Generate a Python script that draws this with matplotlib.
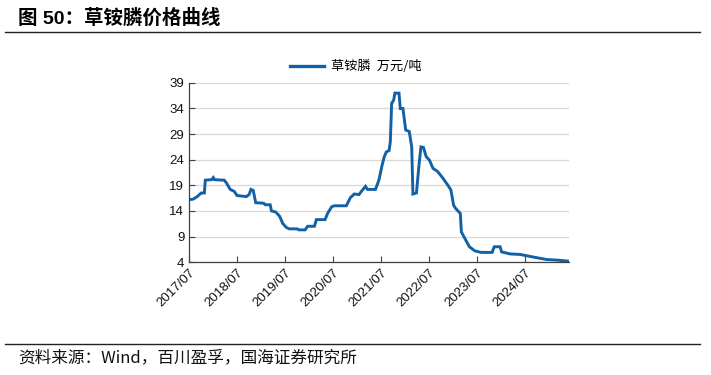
"""
Glufosinate price curve (万元/吨), weekly-ish step series.
"""

import pandas as pd
import matplotlib
matplotlib.use("Agg")
import matplotlib.pyplot as plt
import matplotlib.dates as mdates
from matplotlib.lines import Line2D

plt.rcParams["font.family"] = ["Liberation Sans", "Noto Sans CJK SC", "DejaVu Sans"]

# --- data ---
dates = [
    "2017-07-01", "2017-08-01", "2017-09-01", "2017-10-01", "2017-10-25", "2017-11-01",
    "2017-12-20", "2018-01-01", "2018-01-10", "2018-03-25", "2018-04-10", "2018-05-10",
    "2018-06-10", "2018-07-01", "2018-09-10", "2018-10-01", "2018-10-15", "2018-11-01",
    "2018-11-20", "2019-01-20", "2019-02-01", "2019-03-10", "2019-03-20", "2019-04-20",
    "2019-05-20", "2019-06-15", "2019-07-10", "2019-08-01", "2019-10-01", "2019-10-15",
    "2019-12-01", "2019-12-20", "2020-02-10", "2020-02-25", "2020-05-01", "2020-05-20",
    "2020-06-20", "2020-07-10", "2020-10-10", "2020-11-10", "2020-12-10", "2021-01-15",
    "2021-02-01", "2021-03-05", "2021-03-20", "2021-05-20", "2021-06-15", "2021-07-10",
    "2021-07-25", "2021-08-10", "2021-09-01", "2021-09-10", "2021-09-20", "2021-10-05",
    "2021-10-15", "2021-11-15", "2021-11-25", "2021-12-15", "2021-12-25", "2022-01-05",
    "2022-02-01", "2022-02-20", "2022-03-01", "2022-03-28", "2022-04-15", "2022-05-01",
    "2022-05-20", "2022-06-10", "2022-07-05", "2022-08-01", "2022-09-05", "2022-10-15",
    "2022-11-20", "2022-12-15", "2023-01-05", "2023-01-20", "2023-02-25", "2023-03-05",
    "2023-04-01", "2023-05-05", "2023-06-15", "2023-08-01", "2023-10-25", "2023-11-10",
    "2023-12-25", "2024-01-05", "2024-03-10", "2024-05-25", "2024-09-01", "2024-12-15",
    "2025-03-01", "2025-05-25",
]
prices = [
    16.2, 16.3, 16.8, 17.5, 17.5, 20.0,
    20.1, 20.5, 20.1, 20.0, 19.5, 18.2,
    17.8, 17.0, 16.8, 17.2, 18.2, 18.0,
    15.6, 15.5, 15.2, 15.2, 14.0, 13.8,
    13.0, 11.5, 10.8, 10.5, 10.5, 10.3,
    10.3, 11.0, 11.0, 12.3, 12.3, 13.5,
    14.8, 15.0, 15.0, 16.6, 17.3, 17.2,
    17.8, 18.8, 18.2, 18.2, 20.0, 23.0,
    24.5, 25.5, 25.8, 27.5, 35.0, 35.6,
    37.0, 37.0, 34.0, 34.0, 32.0, 29.8,
    29.5, 26.5, 17.3, 17.5, 22.6, 26.5,
    26.4, 24.6, 23.9, 22.3, 21.7, 20.4,
    19.1, 18.1, 15.1, 14.5, 13.5, 9.9,
    8.6, 7.0, 6.2, 5.9, 5.9, 7.0,
    7.0, 6.0, 5.6, 5.5, 5.0, 4.5,
    4.4, 4.2,
]
yticks = [4, 9, 14, 19, 24, 29, 34, 39]
xtick_dates = ["2017-07-01", "2018-07-01", "2019-07-01", "2020-07-01",
               "2021-07-01", "2022-07-01", "2023-07-01", "2024-07-01"]

LINE_C = "#1261a6"


def main() -> None:
    df = pd.DataFrame({"date": pd.to_datetime(dates), "price": prices})

    fig = plt.figure(figsize=(7.11, 3.75), dpi=100)
    ax = fig.add_axes([0.266, 0.301, 0.534, 0.478])

    ax.plot(df["date"], df["price"], color=LINE_C, lw=2.1, solid_joinstyle="miter")

    ax.set_ylim(4, 39)
    ax.set_yticks(yticks)
    ax.set_xlim(pd.Timestamp("2017-07-01"), pd.Timestamp("2025-05-31"))
    ax.set_xticks(pd.to_datetime(xtick_dates))
    ax.xaxis.set_major_formatter(mdates.DateFormatter("%Y/%m"))
    ax.grid(axis="y", color="#d9d9d9", lw=0.9)
    ax.set_axisbelow(True)

    for s in ["top", "right"]:
        ax.spines[s].set_visible(False)
    for s in ["left", "bottom"]:
        ax.spines[s].set_color("#404040")
        ax.spines[s].set_linewidth(0.9)
    ax.tick_params(direction="in", length=4, color="#404040", labelsize=9.5,
                   labelcolor="#111111")
    ax.tick_params(axis="x", pad=3)
    for lab in ax.get_xticklabels():
        lab.set_rotation(45)
        lab.set_ha("right")
        lab.set_rotation_mode("anchor")

    # legend at top
    handle = Line2D([0], [0], color=LINE_C, lw=2.4)
    fig.legend([handle], ["草铵膦  万元/吨"], loc="center", bbox_to_anchor=(0.5, 0.822),
               frameon=False, handlelength=2.6, handletextpad=0.5,
               prop={"family": ["Noto Sans CJK SC"], "size": 9.5})

    # title, rules and source
    fig.text(0.025, 0.952, "图 50：草铵膦价格曲线", fontsize=14, fontweight="bold",
             family=["Liberation Sans", "Noto Sans CJK SC"], va="center", ha="left")
    fig.add_artist(Line2D([0.007, 0.985], [0.915, 0.915], color="#222222", lw=1.0))
    fig.add_artist(Line2D([0.007, 0.985], [0.083, 0.083], color="#222222", lw=1.0))
    fig.text(0.025, 0.045, "资料来源：Wind，百川盈孚，国海证券研究所", fontsize=12,
             family=["Noto Sans CJK SC", "Liberation Sans"], va="center", ha="left",
             color="#111111")

    fig.savefig("out.png", dpi=100)
    plt.close(fig)


if __name__ == "__main__":
    main()
